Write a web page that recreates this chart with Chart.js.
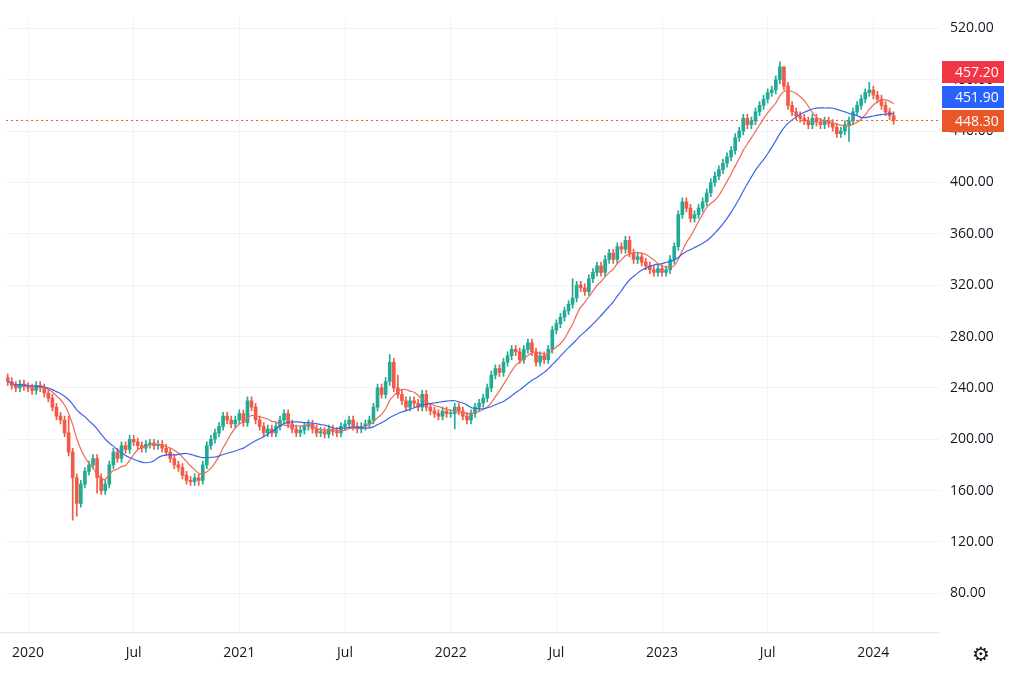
<!DOCTYPE html>
<html><head><meta charset="utf-8">
<script src="https://cdn.jsdelivr.net/npm/chart.js@4/dist/chart.umd.min.js"></script>
<style>html,body{margin:0;background:#fff}#wrap{width:1024px;height:683px}</style>
</head><body><div id="wrap"><canvas id="c"></canvas></div>
<script>
// weekly closes, index 0 ~ late Nov 2019
const closes = [
  245,242,240,243,241,240,238,242,240,236,232,225,218,
  215,205,190,170,150,
  165,175,180,185,170,160,165,180,190,
  185,195,192,200,
  198,195,193,196,197,195,196,193,190,185,180,178,
  172,168,167,170,168,180,195,200,
  205,210,218,215,212,
  215,220,213,230,225,215,210,205,
  208,205,210,215,220,212,208,205,207,
  210,212,208,205,206,204,208,206,205,210,212,215,210,
  208,210,212,215,225,
  240,235,245,260,240,235,230,225,230,
  228,225,235,225,222,220,218,222,220,
  220,225,222,218,215,220,225,228,232,
  240,250,255,252,260,
  265,270,268,262,270,275,268,260,265,
  262,270,285,290,
  295,300,305,310,320,318,315,325,330,
  335,330,340,345,340,350,348,355,
  345,340,342,338,335,332,330,333,330,
  332,340,350,375,385,
  380,372,375,380,385,392,400,405,
  410,415,420,425,435,440,450,445,448,
  455,460,465,470,472,
  480,490,475,460,
  455,452,450,448,445,450,447,445,
  448,446,443,438,440,445,448,455,460,
  465,470,472,468,465,460,455,
  452,448.3
];
// notable wick extremes
const highs = {15: 218, 94: 266, 96: 250, 139: 325, 190: 494, 191: 490, 212: 478};
const lows = {16: 137, 17: 140, 22: 158, 47: 164, 110: 208, 207: 432};
const xTicks = [5, 31, 57, 83, 109, 135, 161, 187, 213];
const xLabels = ['2020','Jul','2021','Jul','2022','Jul','2023','Jul','2024'];
const yTicks = [80,120,160,200,240,280,320,360,400,440,480,520];
const priceTags = [[457.2,'#f23645'],[451.9,'#2962ff'],[448.3,'#e8562a']];

const UP = '#22ab94', DN = '#f05a47';
const opens = closes.map((c, i) => i ? closes[i-1] : 248);
const bodies = [], wicks = [], cols = [];
closes.forEach((c, i) => {
  const o = opens[i];
  const hi = highs[i] ?? Math.max(o, c) + 3;
  const lo = lows[i] ?? Math.min(o, c) - 3;
  bodies.push({x: i, y: [o, c === o ? c + 0.5 : c]});
  wicks.push({x: i, y: [lo, hi]});
  cols.push(c >= o ? UP : DN);
});
function ma(n) {
  return closes.map((c, i) => {
    const s = closes.slice(Math.max(0, i - n + 1), i + 1);
    return {x: i, y: s.reduce((a, b) => a + b, 0) / s.length};
  });
}

const tagPlugin = {
  id: 'tags',
  afterDraw(ch) {
    const y = ch.scales.y, ctx = ch.ctx, a = ch.chartArea;
    ctx.save();
    ctx.setLineDash([2, 3]); ctx.strokeStyle = '#e8562a'; ctx.lineWidth = 1;
    const py = y.getPixelForValue(448.3);
    ctx.beginPath(); ctx.moveTo(a.left, py); ctx.lineTo(a.right, py); ctx.stroke();
    ctx.setLineDash([]);
    const pos = [72, 97, 121];
    priceTags.forEach(([v, col], k) => {
      const cy = pos[k];
      ctx.fillStyle = col; ctx.fillRect(942, cy - 11, 62, 22);
      ctx.fillStyle = '#fff'; ctx.font = '14px "Open Sans"';
      ctx.textAlign = 'left'; ctx.textBaseline = 'middle';
      ctx.fillText(v.toFixed(2), 955, cy + 1);
    });
    ctx.strokeStyle = '#e0e3eb';
    ctx.beginPath(); ctx.moveTo(0, a.bottom + 0.5); ctx.lineTo(a.right, a.bottom + 0.5); ctx.stroke();
    ctx.fillStyle = '#131722'; ctx.font = '20px "DejaVu Sans"'; ctx.textAlign = 'center';
    ctx.fillText('⚙', 981, 656);
    ctx.restore();
  }
};

new Chart(document.getElementById('c'), {
  type: 'bar',
  data: {datasets: [
    {type: 'line', data: ma(20), borderColor: '#3b66e6', borderWidth: 1.2, pointRadius: 0, tension: 0.3, order: 0},
    {type: 'line', data: ma(8), borderColor: '#f0695a', borderWidth: 1.2, pointRadius: 0, tension: 0.3, order: 0},
    {data: wicks, backgroundColor: cols, barThickness: 1, grouped: false, order: 2},
    {data: bodies, backgroundColor: cols, barThickness: 3, grouped: false, order: 1}
  ]},
  options: {
    responsive: true, maintainAspectRatio: false, animation: false,
    layout: {padding: {left: 0, right: 0, top: 0, bottom: 10}},
    plugins: {legend: {display: false}, tooltip: {enabled: false}},
    scales: {
      x: {type: 'linear', min: -0.4, max: 229.4, offset: false,
        grid: {color: '#f0f3fa', drawTicks: false, offset: false}, border: {display: false},
        afterBuildTicks: s => { s.ticks = xTicks.map(v => ({value: v})); },
        ticks: {callback: (v) => xLabels[xTicks.indexOf(v)], color: '#131722', padding: 12,
          maxRotation: 0, font: {size: 14, family: 'Open Sans'}}},
      y: {position: 'right', min: 49.7, max: 527.8,
        grid: {color: '#f0f3fa', drawTicks: false}, border: {display: false},
        afterBuildTicks: s => { s.ticks = yTicks.map(v => ({value: v})); },
        afterFit: s => { s.width = 84; },
        ticks: {callback: v => v.toFixed(2), color: '#131722', padding: 10,
          font: {size: 14, family: 'Open Sans'}}}
    }
  },
  plugins: [tagPlugin]
});
</script></body></html>
